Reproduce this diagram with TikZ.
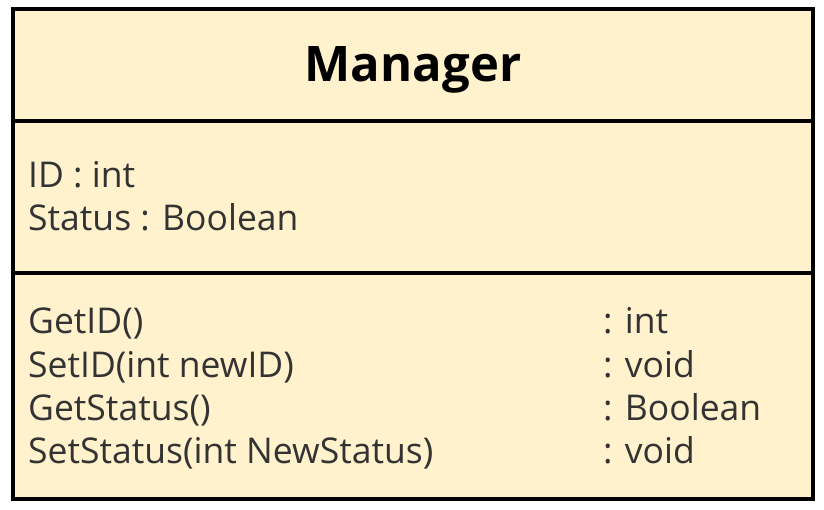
\documentclass[tikz,border=0pt]{standalone}
\usepackage{fontspec}
\setmainfont{Open Sans}
\begin{document}
\begin{tikzpicture}[x=1pt,y=-1pt,
  frame/.style={draw=black,line width=4pt,fill=classfill},
  rule/.style={draw=black,line width=4pt},
  title/.style={anchor=base,inner sep=0pt,font=\fontsize{49}{54}\selectfont\bfseries,text=black},
  member/.style={anchor=base west,inner sep=0pt,font=\fontsize{35.5}{40}\selectfont,text=textgrey}]
\definecolor{classfill}{HTML}{FFF2CC}
\definecolor{textgrey}{HTML}{333333}
\useasboundingbox (0,0) rectangle (824,510);
% class box and compartment rules
\draw[frame] (13,9) rectangle (813,499);
\draw[rule] (13,121) -- (813,121);
\draw[rule] (13,273) -- (813,273);
% name
\node[title] (name) at (413,82) {Manager};
% attributes
\node[member] (a1) at (28,188) {ID : int};
\node[member] (a2) at (28,231) {Status : Boolean};
% operations
\node[member] (m1) at (28,334) {GetID()};
\node[member] (m2) at (28,377) {SetID(int newID)};
\node[member] (m3) at (28,420) {GetStatus()};
\node[member] (m4) at (28,463) {SetStatus(int NewStatus)};
\node[member] (r1) at (603,334) {: int};
\node[member] (r2) at (603,377) {: void};
\node[member] (r3) at (603,420) {: Boolean};
\node[member] (r4) at (603,463) {: void};
\end{tikzpicture}
\end{document}
